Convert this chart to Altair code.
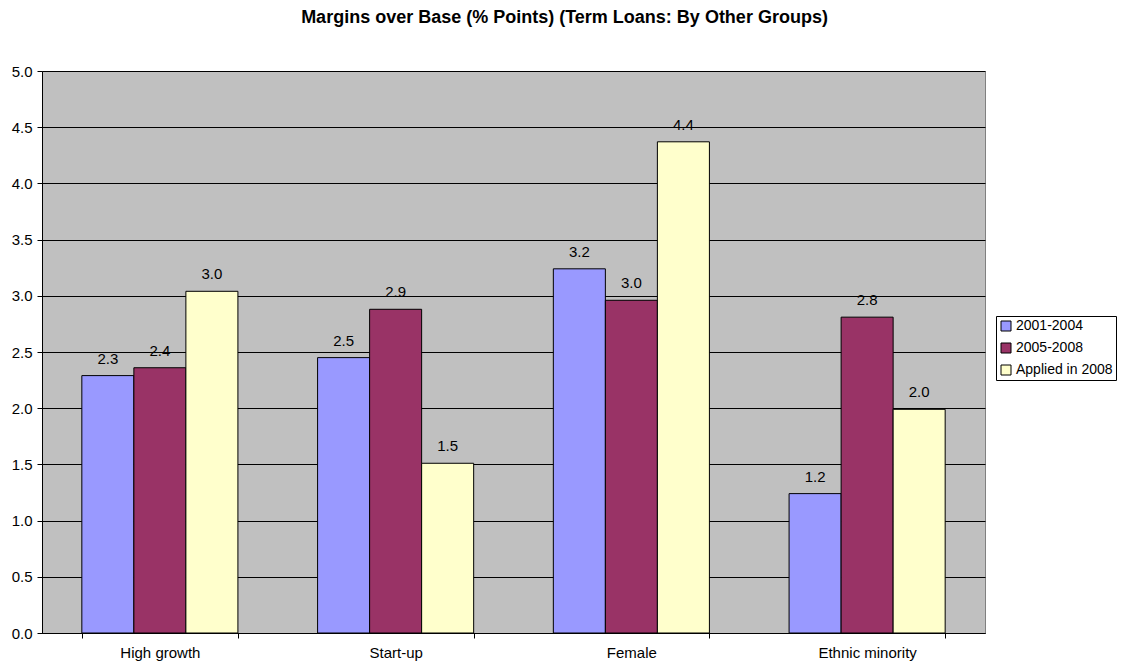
import altair as alt
import pandas as pd

categories = ["High growth", "Start-up", "Female", "Ethnic minority"]
series = ["2001-2004", "2005-2008", "Applied in 2008"]
v_2001_2004 = [2.29, 2.45, 3.24, 1.24]
v_2005_2008 = [2.36, 2.88, 2.96, 2.81]
v_applied_2008 = [3.04, 1.51, 4.37, 1.99]
colors = ["#9999FF", "#993366", "#FFFFCC"]
y_ticks = [0, 0.5, 1.0, 1.5, 2.0, 2.5, 3.0, 3.5, 4.0, 4.5, 5.0]

rows = []
for s, vals in zip(series, [v_2001_2004, v_2005_2008, v_applied_2008]):
    for c, v in zip(categories, vals):
        rows.append({"category": c, "series": s, "value": v})
df = pd.DataFrame(rows)

FONT = "Liberation Sans"
FS = 15

x = alt.X("category:N", sort=categories, title=None,
          scale=alt.Scale(paddingInner=0.338, paddingOuter=0.169),
          axis=alt.Axis(labelAngle=0, labelFontSize=FS, labelFont=FONT, labelColor="black",
                        domainColor="black", tickColor="black", tickBand="extent",
                        tickSize=5, labelPadding=7))
xo = alt.XOffset("series:N", sort=series, scale=alt.Scale(paddingInner=0, paddingOuter=0))
y = alt.Y("value:Q", title=None,
          scale=alt.Scale(domain=[0, 5], nice=False),
          axis=alt.Axis(values=y_ticks, format=".1f", labelFontSize=FS, labelFont=FONT,
                        labelColor="black", domainColor="black", tickColor="black",
                        tickSize=5, gridColor="black", gridOpacity=1, gridWidth=1,
                        labelPadding=5))

bars = alt.Chart(df).mark_bar(stroke="black", strokeWidth=1).encode(
    x=x, xOffset=xo, y=y,
    color=alt.Color("series:N", sort=series,
                    scale=alt.Scale(domain=series, range=colors),
                    legend=alt.Legend(title=None, orient="none", legendX=954, legendY=245,
                                      symbolType="square", symbolSize=100,
                                      symbolStrokeColor="black", symbolStrokeWidth=1,
                                      labelFontSize=14, labelFont=FONT, labelColor="black",
                                      strokeColor="black", fillColor="white",
                                      padding=3, rowPadding=8, labelOffset=3,
                                      cornerRadius=0))
)

labels = alt.Chart(df).mark_text(dy=-12, baseline="alphabetic", fontSize=FS, font=FONT,
                                 color="black").encode(
    x=alt.X("category:N", sort=categories), xOffset=alt.XOffset("series:N", sort=series),
    y="value:Q",
    text=alt.Text("value:Q", format=".1f"),
)

chart = (bars + labels).properties(
    width=943, height=562,
    autosize=alt.AutoSizeParams(type="none"),
    padding={"left": 34, "top": 63, "right": 135, "bottom": 33},
    title=alt.TitleParams("Margins over Base (% Points) (Term Loans: By Other Groups)",
                          font=FONT, fontSize=18, fontWeight="bold", color="black",
                          anchor="middle", dx=51, offset=37),
).configure_view(fill="#C0C0C0", stroke="#808080", strokeWidth=1)

chart.save("out.html", embed_options={"renderer": "svg", "actions": False})
